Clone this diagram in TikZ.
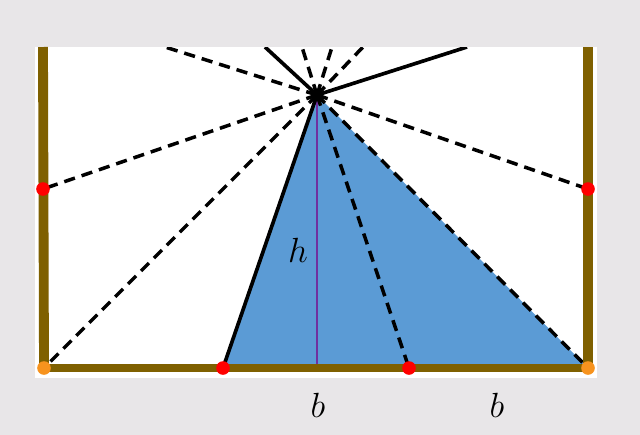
\documentclass[tikz,border=0pt]{standalone}
\definecolor{bgcol}{HTML}{E8E6E8}
\definecolor{postcol}{HTML}{7F6000}
\definecolor{tricol}{HTML}{5B9BD5}
\definecolor{ptred}{HTML}{FF0000}
\definecolor{ptorange}{HTML}{F7931E}
\definecolor{hcol}{HTML}{7030A0}
\tikzset{
  ray/.style={line width=2.5pt, dash pattern=on 8pt off 5pt},
  solidray/.style={line width=2.6pt},
  post/.style={postcol, line width=7pt},
  redpt/.style={circle, fill=ptred, inner sep=0pt, minimum size=0.34cm},
  orangept/.style={circle, fill=ptorange, inner sep=0pt, minimum size=0.34cm},
  lbl/.style={font=\fontsize{28}{32}\selectfont}
}
\begin{document}
\begin{tikzpicture}[x=0.025cm, y=-0.025cm]
  \fill[bgcol] (0,0) rectangle (640,435);
  \fill[white] (35,47) rectangle (597,378);

  \coordinate (A) at (317,95);
  \coordinate (L1) at (43,189);
  \coordinate (L0) at (44,368);
  \coordinate (R1) at (588,189);
  \coordinate (R0) at (588,368);
  \coordinate (B1) at (223,368);
  \coordinate (B2) at (409,368);
  \coordinate (H) at (317,368);

  \fill[tricol] (A) -- (B1) -- (R0) -- cycle;
  \draw[hcol, line width=1.2pt] (A) -- (H);

  \begin{scope}
    \clip (35,47) rectangle (597,378);
    \coordinate (T1) at (165,47);
    \coordinate (T2) at (265,47);
    \coordinate (T3) at (302,47);
    \coordinate (T4) at (332,47);
    \coordinate (T5) at (363,47);
    \coordinate (T6) at (467,47);
    \foreach \p in {T1,T3,T4,T5,L1,L0,R1,R0,B2}
      \draw[ray] (A) -- (\p);
    \foreach \p in {T2,T6,B1}
      \draw[solidray] (A) -- (\p);
  \end{scope}

  \draw[post] (43,47) -- (L0);
  \draw[post] (588,47) -- (R0);
  \draw[postcol, line width=6pt] (L0) -- (R0);

  \node[redpt] (p1) at (L1) {};
  \node[redpt] (p2) at (R1) {};
  \node[redpt] (p3) at (B1) {};
  \node[redpt] (p4) at (B2) {};
  \node[orangept] (p5) at (L0) {};
  \node[orangept] (p6) at (R0) {};

  \node[lbl] (hl) at (298,250) {$h$};
  \node[lbl] (b1) at (318,405) {$b$};
  \node[lbl] (b2) at (497,405) {$b$};
\end{tikzpicture}
\end{document}
